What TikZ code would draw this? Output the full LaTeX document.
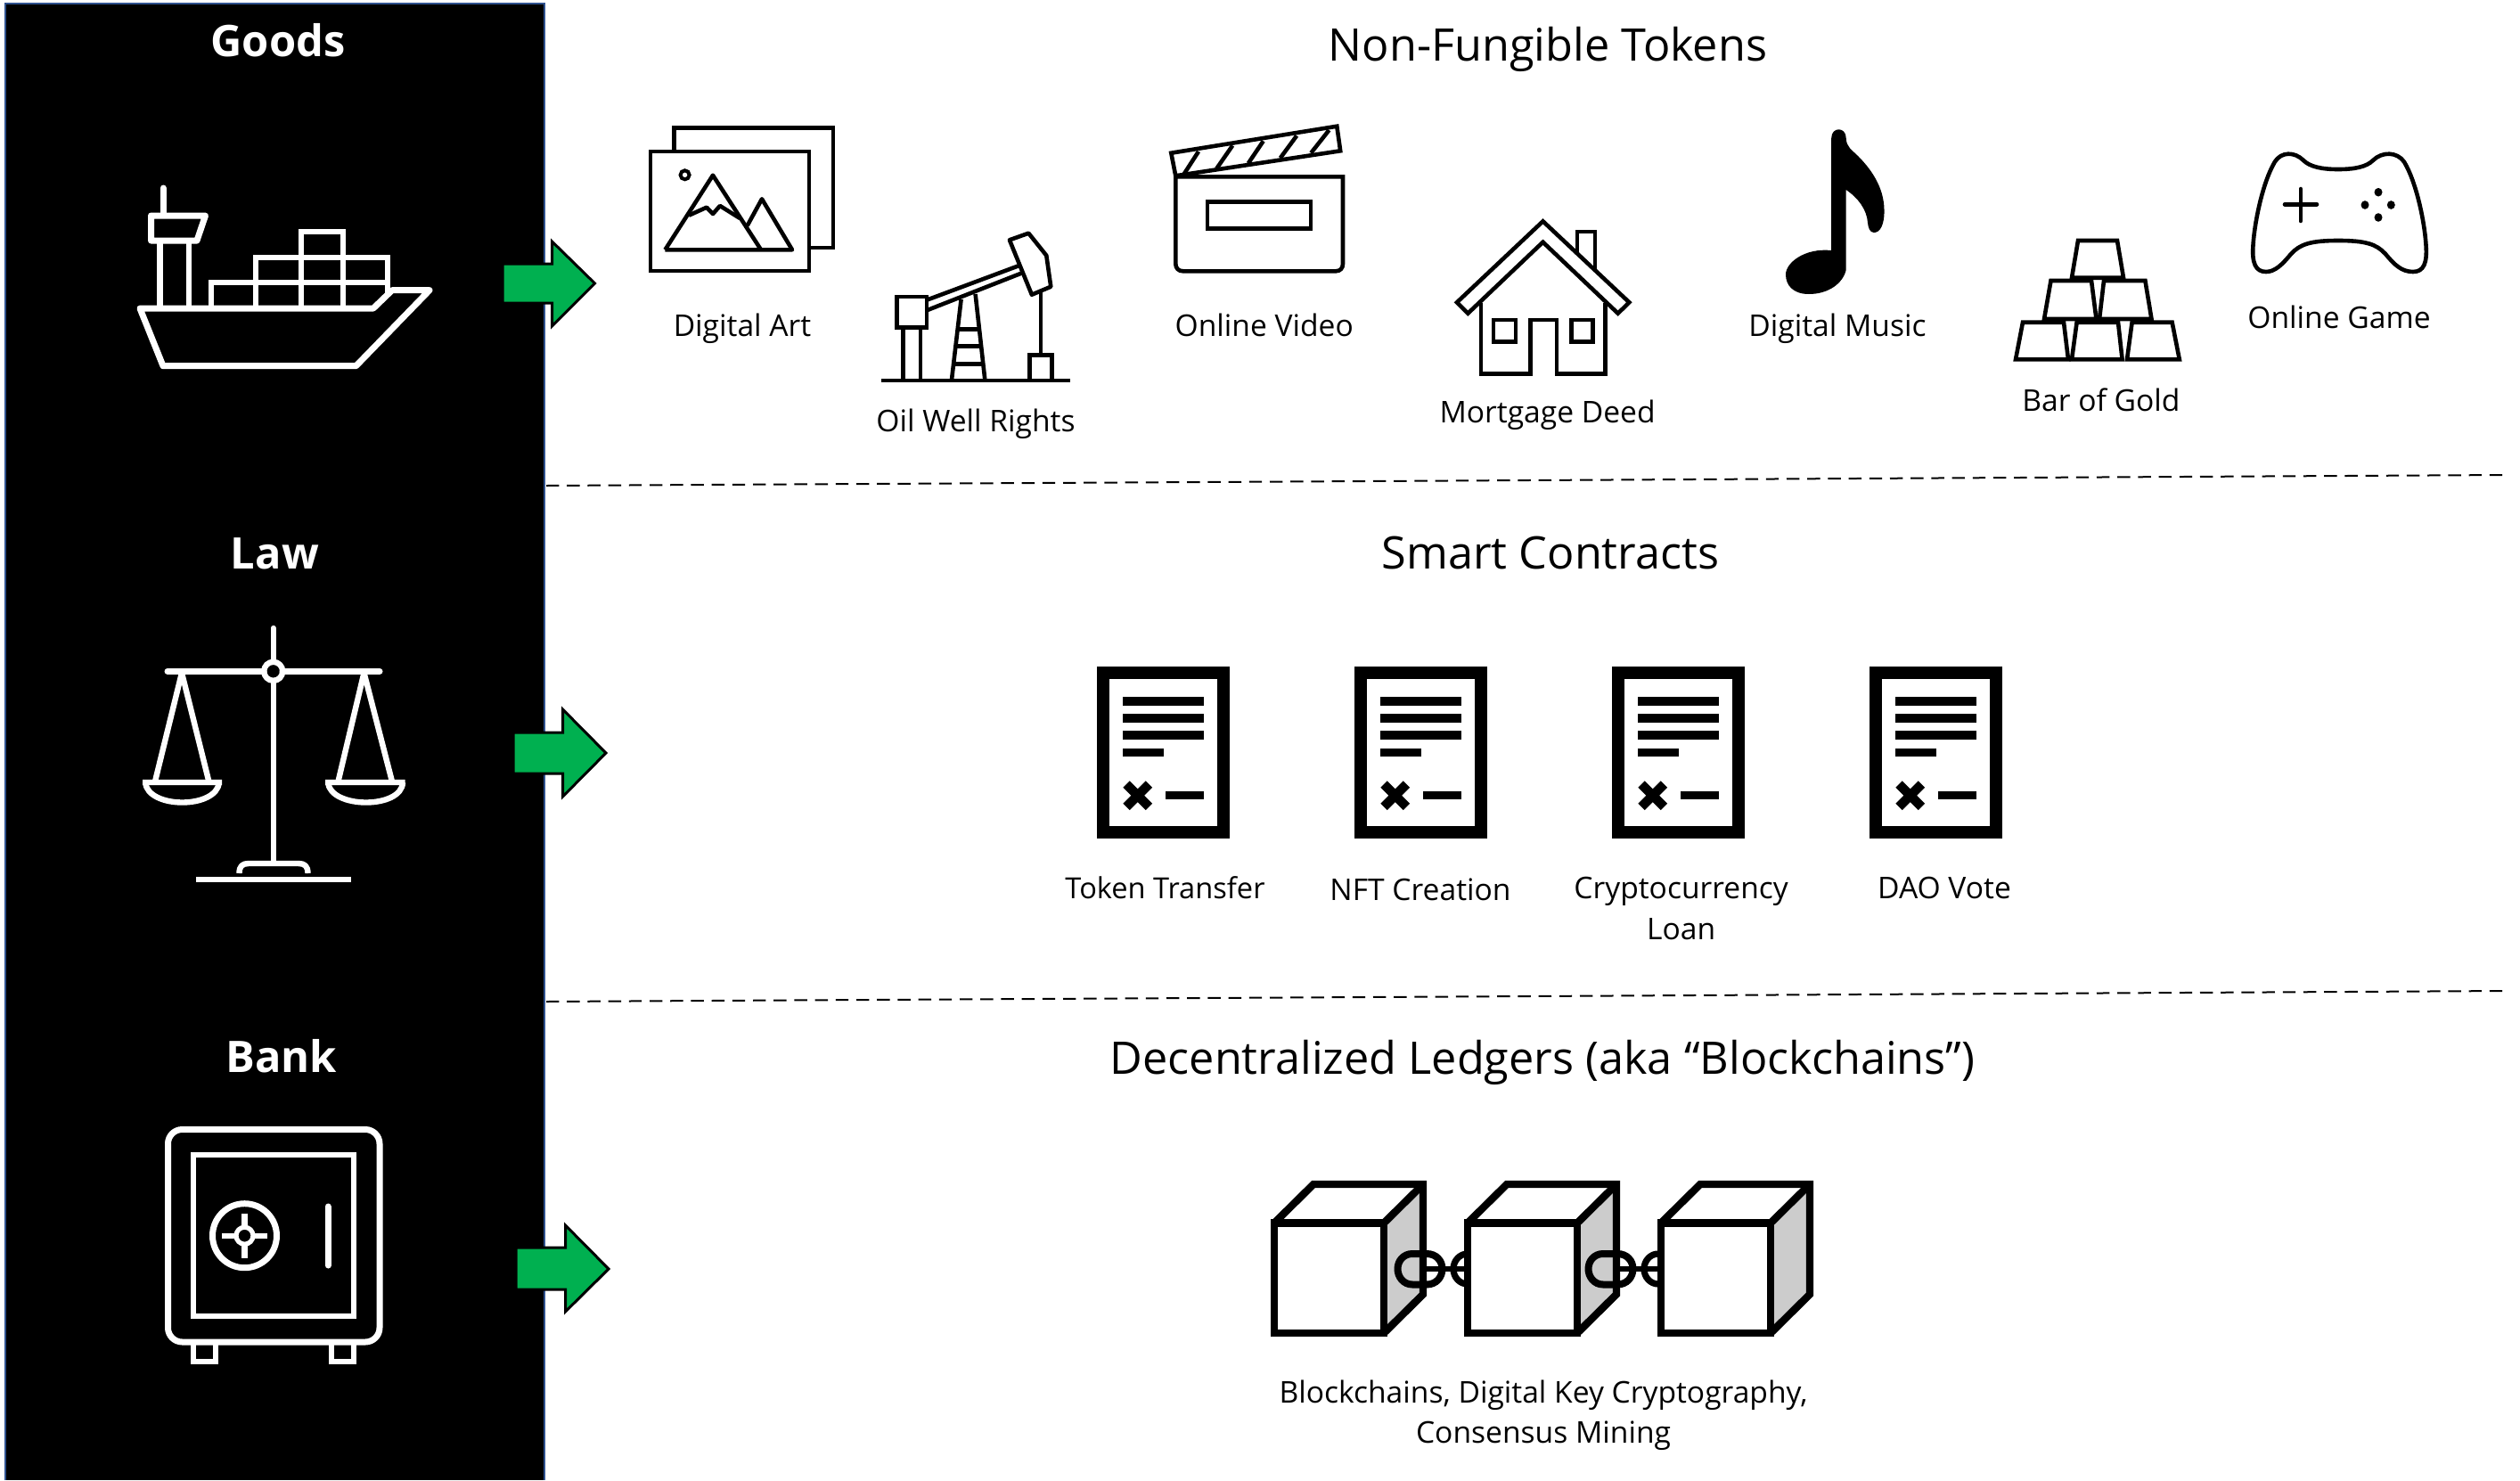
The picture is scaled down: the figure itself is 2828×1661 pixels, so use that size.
\documentclass[tikz,border=0pt]{standalone}
\usepackage{fontspec}
\setmainfont{Open Sans}
\tikzset{
  x=0.25pt,y=-0.25pt,
  wl/.style={draw=white,line width=1.75pt,line join=round},
  wlm/.style={draw=white,line width=1.6pt,line join=miter},
  bl/.style={draw=black,line width=1.15pt,line join=miter},
  blr/.style={draw=black,line width=1.15pt,line join=round},
  garrow/.style={fill=arrowgreen,draw=black,line width=0.75pt,line join=miter},
  sep/.style={draw=black,line width=0.5pt,dash pattern=on 3.6pt off 2.2pt},
  lab/.style={anchor=base,inner sep=0pt,font=\fontsize{8.4}{11.25}\selectfont},
  ttl/.style={anchor=base,inner sep=0pt,font=\fontsize{12.6}{15}\selectfont},
  hdr/.style={anchor=base,inner sep=0pt,text=white,font=\fontsize{12.2}{15}\selectfont\bfseries},
}
\definecolor{arrowgreen}{HTML}{00B050}
\definecolor{panelblue}{HTML}{2F528F}
\definecolor{sidegrey}{HTML}{CCCCCC}
\newcommand{\contractdoc}[1]{%
  \begin{scope}[shift={(#1,0)}]
    \fill[black] (1231,748.3) rectangle (1380,940.7);
    \fill[white] (1245.3,762.3) rectangle (1365.7,926.7);
    \fill[black] (1260,781.7) rectangle (1351,791.7);
    \fill[black] (1260,801) rectangle (1351,811);
    \fill[black] (1260,820.3) rectangle (1351,830);
    \fill[black] (1260,839.7) rectangle (1305.7,849.3);
    \fill[black] (1308,887.7) rectangle (1351,897.3);
    \draw[black,line width=2.6pt] (1264,880) -- (1289.4,905.4) (1264,905.4) -- (1289.4,880);
  \end{scope}}
\newcommand{\chainblock}[1]{%
  \begin{scope}[shift={(#1,0)}]
    \fill[sidegrey] (1553,1372.5) -- (1597,1329) -- (1597,1452.5) -- (1553,1496) -- cycle;
    \fill[white] (1430,1372.5) rectangle (1553,1496);
    \fill[white] (1430,1372.5) -- (1474,1329) -- (1597,1329) -- (1553,1372.5) -- cycle;
    \draw[black,line width=2.1pt,line join=miter] (1553,1372.5) -- (1595,1331);
    \draw[black,line width=2.1pt,line join=miter] (1430,1372.5) rectangle (1553,1496);
    \draw[black,line width=2.1pt,line join=miter] (1430,1372.5) -- (1474,1329) -- (1597,1329) -- (1597,1452.5) -- (1553,1496);
  \end{scope}}
\newcommand{\chainlinkL}[1]{%
  \begin{scope}[shift={(#1,0)}]
    \draw[black,line width=2pt] (1585,1407) -- (1601,1407) .. controls (1612,1407) and (1618.5,1415) .. (1618.5,1424) .. controls (1618.5,1433) and (1612,1441.5) .. (1601,1441.5) -- (1585,1441.5) .. controls (1575,1441.5) and (1568.5,1433) .. (1568.5,1424) .. controls (1568.5,1415) and (1575,1407) .. (1585,1407) -- cycle;
    \draw[black,line width=1.4pt] (1597,1424) -- (1650,1424);
  \end{scope}}
\newcommand{\chainlinkR}[1]{%
  \begin{scope}[shift={(#1,0)}]
    \draw[black,line width=1.8pt] (1647,1424) ellipse[x radius=16,y radius=17];
  \end{scope}}
\begin{document}
\begin{tikzpicture}
\useasboundingbox (0,0) rectangle (2828,1661);
\fill[white] (0,0) rectangle (2828,1661);
% panel
\fill[black] (6,4) rectangle (611,1661);
\draw[panelblue,line width=0.7pt] (6,1661) -- (6,4) -- (611,4) -- (611,1661);
% separators
\coordinate (s1a) at (613,545);
\coordinate (s1b) at (2816,533);
\coordinate (s2a) at (613,1124);
\coordinate (s2b) at (2816,1112);
\draw[sep] (s1a) -- (s1b);
\draw[sep] (s2a) -- (s2b);
% arrows
\draw[garrow] (564,296) -- (619.5,296) -- (619.5,271) -- (667.5,318) -- (619.5,366) -- (619.5,340) -- (564,340) -- cycle;
\draw[garrow] (576,822) -- (631.5,822) -- (631.5,796) -- (680,845) -- (631.5,894) -- (631.5,868) -- (576,868) -- cycle;
\draw[garrow] (579,1400) -- (634.5,1400) -- (634.5,1375) -- (683,1424) -- (634.5,1472) -- (634.5,1447) -- (579,1447) -- cycle;
% headers
\node[hdr] (goods) at (312,63.6) {Goods};
\node[hdr] (law) at (308.4,638) {Law};
\node[hdr] (bank) at (315.6,1203) {Bank};
% ship
\draw[wl,line cap=round] (183,211) -- (183,240);
\draw[wl] (169.5,242) -- (230.5,242) -- (221,270) -- (169.5,270) -- cycle;
\draw[wlm] (179.5,270) -- (179.5,346) (212,270) -- (212,346);
\draw[wl] (157,346) -- (183,410.7) -- (399.5,410.7) -- (482,325.7) -- (440,325.7) -- (419,346) -- cycle;
\draw[wlm,line width=1.5pt] (236.6,346) -- (236.6,317) -- (435,317) -- (435,333);
\draw[wlm,line width=1.5pt] (287,346) -- (287,288.6) -- (435,288.6) -- (435,317);
\draw[wlm,line width=1.5pt] (338,346) -- (338,259.6) -- (385,259.6) -- (385,346);
% scales
\draw[wl,line width=1.6pt,line cap=round] (306.7,705) -- (306.7,742);
\draw[wl,line width=1.6pt] (306.7,764) -- (306.7,968);
\draw[wl,line cap=round] (188,753.3) -- (296,753.3) (317,753.3) -- (426,753.3);
\draw[wl,line width=1.6pt] (306.7,753.3) circle[radius=10.5];
\draw[wl,line width=1.6pt] (174,877) -- (204,755) -- (234.4,877);
\draw[wl,line width=1.6pt] (379.5,877) -- (408.5,755) -- (440,877);
\draw[wl,line width=1.6pt] (160,878) -- (249,878) (163,878) .. controls (166,908) and (243,908) .. (246,878);
\draw[wl,line width=1.6pt] (365,878) -- (454.5,878) (368,878) .. controls (371,908) and (451,908) .. (452,878);
\draw[wl,line width=1.6pt] (268.5,980) .. controls (268.5,972) and (272,969) .. (279,969) -- (335,969) .. controls (342,969) and (345.5,972) .. (345.5,980);
\draw[wlm] (220,987) -- (394,987);
% safe
\draw[wl,rounded corners=4pt] (188.5,1267.5) rectangle (426,1506);
\draw[wlm] (217,1296) rectangle (397,1477);
\draw[wl] (274.5,1386.7) circle[radius=36];
\draw[wl,line width=1.3pt] (274.5,1386.7) circle[radius=9.5];
\draw[wlm] (249,1386.7) -- (263,1386.7) (286,1386.7) -- (300,1386.7) (274.5,1361.7) -- (274.5,1375) (274.5,1398) -- (274.5,1411.7);
\draw[wl,line cap=round] (368,1354) -- (368,1420);
\draw[wlm] (217,1506) -- (217,1528) -- (242,1528) -- (242,1506);
\draw[wlm] (372,1506) -- (372,1528) -- (397,1528) -- (397,1506);
% titles
\node[ttl] (nft) at (1737,68.5) {Non-Fungible Tokens};
\node[ttl] (smart) at (1740,638) {Smart Contracts};
\node[ttl] (ledger) at (1731,1205) {Decentralized Ledgers (aka “Blockchains”)};
% digital art
\draw[bl] (756.4,170) -- (756.4,143.3) -- (935,143.3) -- (935,278) -- (908,278);
\draw[bl] (730,170) rectangle (908,304);
\draw[bl,line width=1pt] (768.6,196.3) circle[radius=5];
\draw[blr] (746.4,280.3) -- (800,196.7) -- (854,280.3);
\draw[blr] (746.4,280.3) -- (889,280.3) -- (855,223.3) -- (838.6,253.3);
\draw[blr] (773,241.7) -- (793,232.7) -- (800,240) -- (808,231) -- (830.4,245);
% oil well
\draw[bl] (989,427) -- (1201,427);
\draw[bl] (1006.4,333) rectangle (1040,367.3);
\draw[bl] (1013.6,367.3) -- (1013.6,427) (1033,367.3) -- (1033,427);
\draw[bl] (1040,336.7) -- (1143,298.3) (1040,348.3) -- (1146,306.7);
\draw[blr] (1132.9,269.3) -- (1154.3,261.7) -- (1174.3,286.7) -- (1179.3,321.7) -- (1157.9,330.7) -- cycle;
\draw[bl] (1078.6,336) -- (1067.9,427) (1094.6,330) -- (1105.4,427);
\draw[bl] (1074.6,369.3) -- (1099,369.3) (1072.3,388.3) -- (1101.2,388.3) (1069.9,408.3) -- (1103.5,408.3);
\draw[bl] (1167.9,328) -- (1167.9,398.3);
\draw[bl] (1155.4,427) -- (1155.4,398.3) -- (1180.4,398.3) -- (1180.4,427);
% clapperboard
\draw[bl] (1319.3,198.3) -- (1507,198.3) -- (1507,296) .. controls (1507,301) and (1504,304.3) .. (1499,304.3) -- (1327.6,304.3) .. controls (1322.6,304.3) and (1319.3,301) .. (1319.3,296) -- cycle;
\draw[bl] (1355,226.7) rectangle (1471,256.7);
\draw[bl] (1314.3,171.7) -- (1500.3,141.7) -- (1504.2,169.3) -- (1319.3,197.3) -- cycle;
\draw[bl] (1328.9,195) -- (1345,170) (1365.2,189.3) -- (1383.2,163.3) (1400.8,183.3) -- (1417.7,158.3) (1436.8,177.3) -- (1455.2,152.3) (1471.2,171.7) -- (1491.5,146);
% house
\draw[bl] (1731.5,248.3) -- (1828.3,339.3) -- (1815.7,351.7) -- (1731.5,271.7) -- (1647.3,351.7) -- (1635,339.3) -- cycle;
\draw[bl] (1770,283) -- (1770,260) -- (1790,260) -- (1790,301.7);
\draw[bl] (1661.8,340) -- (1661.8,419.3) -- (1717.3,419.3) -- (1717.3,359) -- (1746.8,359) -- (1746.8,419.3) -- (1801.5,419.3) -- (1801.5,340);
\draw[bl] (1676,359) rectangle (1701,383.3);
\draw[bl] (1763.3,359) rectangle (1787.4,383.3);
% music
\fill[black] (2055.2,281) -- (2055.2,155) .. controls (2055.2,142) and (2071.7,142) .. (2071.7,155) .. controls (2072,165) and (2078,168) .. (2085,175) .. controls (2100,190) and (2114,210) .. (2114.5,235) .. controls (2115,252) and (2110,261) .. (2103,261) .. controls (2098,261) and (2096.5,255) .. (2096,250) .. controls (2095,235) and (2085,222) .. (2071.7,213) -- (2071.7,303) .. controls (2068,318) and (2052,330) .. (2030,330) .. controls (2012,330) and (2004,320) .. (2004,308) .. controls (2004,295) and (2025,278) .. (2055.2,281) -- cycle;
% gold
\draw[bl] (2332,270) -- (2376,270) -- (2383,311.7) -- (2325,311.7) -- cycle;
\draw[bl] (2301.5,315) -- (2347,315) -- (2352.5,358) -- (2294,358) -- cycle;
\draw[bl] (2361,315) -- (2407.4,315) -- (2414.5,358) -- (2356,358) -- cycle;
\draw[bl] (2270,361.7) -- (2316,361.7) -- (2321,403.3) -- (2262,403.3) -- cycle;
\draw[bl] (2330.6,361.7) -- (2377,361.7) -- (2381.6,403.3) -- (2325,403.3) -- cycle;
\draw[bl] (2392.6,361.7) -- (2437.6,361.7) -- (2445.8,403.3) -- (2387,403.3) -- cycle;
% gamepad
\draw[blr] (2552.8,181.7) .. controls (2560,170) and (2575,170) .. (2585,180)
  .. controls (2592,187) and (2605,190) .. (2624,190)
  .. controls (2643,190) and (2656,187) .. (2663,180)
  .. controls (2673,170) and (2690,170) .. (2698,181.7)
  .. controls (2712,205) and (2721,250) .. (2722.5,275)
  .. controls (2724,295) and (2720,305) .. (2708,305)
  .. controls (2695,305) and (2687,297) .. (2677,285)
  .. controls (2667,274) and (2655,270) .. (2624,270)
  .. controls (2593,270) and (2581,274) .. (2571,285)
  .. controls (2561,297) and (2553,305) .. (2543,305)
  .. controls (2531,305) and (2527,295) .. (2528.5,275)
  .. controls (2530,250) and (2539,205) .. (2552.8,181.7) -- cycle;
\draw[blr,line cap=round] (2564,229.3) -- (2600,229.3) (2581.8,212) -- (2581.8,248);
\fill[black] (2669,215.7) ellipse[x radius=4.5,y radius=4.8] (2669,244) ellipse[x radius=4.5,y radius=4.8] (2654,230) ellipse[x radius=4.5,y radius=4.8] (2683.3,230) ellipse[x radius=4.5,y radius=4.8];
% labels row 1
\node[lab] (l1) at (833,377) {Digital Art};
\node[lab] (l2) at (1095,484.5) {Oil Well Rights};
\node[lab] (l3) at (1418.7,377) {Online Video};
\node[lab] (l4) at (1736.6,474.5) {Mortgage Deed};
\node[lab] (l5) at (2062,377) {Digital Music};
\node[lab] (l6) at (2358,461) {Bar of Gold};
\node[lab] (l7) at (2625,368) {Online Game};
% contracts
\contractdoc{0}\contractdoc{289}\contractdoc{578}\contractdoc{867}
\node[lab,font=\fontsize{8.15}{11}\selectfont] (c1) at (1307.5,1008.5) {Token Transfer};
\node[lab] (c2) at (1594,1010) {NFT Creation};
\node[lab] (c3) at (1886.6,1008.5) {Cryptocurrency};
\node[lab] (c3b) at (1886.6,1054.5) {Loan};
\node[lab] (c4) at (2182,1008.5) {DAO Vote};
% blockchain
\chainblock{0}
\chainlinkL{0}\chainlinkR{0}
\chainblock{217}
\chainlinkL{214}\chainlinkR{214}
\chainblock{434}
\node[lab] (b1) at (1732,1574) {Blockchains, Digital Key Cryptography,};
\node[lab] (b2) at (1732,1619.5) {Consensus Mining};
\end{tikzpicture}
\end{document}
